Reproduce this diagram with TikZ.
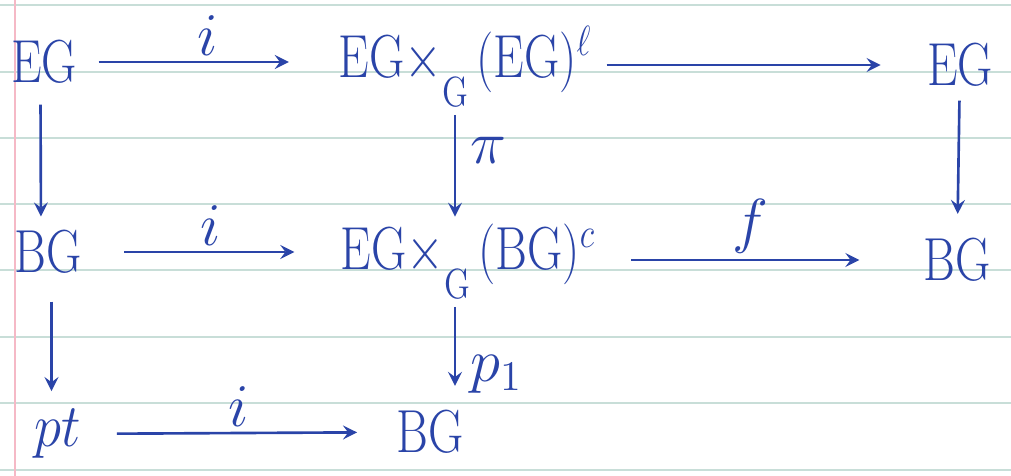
\documentclass[tikz,border=0pt]{standalone}
\usepackage{amsmath}
\definecolor{penblue}{RGB}{42,68,168}
\definecolor{rulecol}{RGB}{200,222,216}
\definecolor{margincol}{RGB}{245,185,198}
\newcommand{\twisted}[2]{\scalebox{0.8}[1]{$\mathrm{EG}{\times}$\raisebox{-8pt}{\fontsize{12}{14}\selectfont G}\,$(\mathrm{#1})^{#2}$}}
\newcommand{\ob}[1]{\scalebox{0.8}[1]{$\mathrm{#1}$}}
\begin{document}
\begin{tikzpicture}[x=0.01cm,y=-0.01cm, font=\fontsize{17}{20}\selectfont,
  obj/.style={text=penblue, inner sep=2pt},
  ink/.style={draw=penblue, ->, >=stealth, line width=0.75pt},
  lab/.style={text=penblue, inner sep=1.5pt, font=\fontsize{17}{20}\selectfont}]
% paper
\fill[white] (0,0) rectangle (1011,476);
\useasboundingbox (0,0) rectangle (1011,476);
\foreach \y in {5,72,138,204,270,337,403,470}
  \draw[rulecol, line width=0.5pt] (0,\y) -- (1011,\y);
\draw[margincol, line width=0.5pt] (15,0) -- (15,476);

% objects
\node[obj] (egA) at (44,62) {\ob{EG}};
\node[obj, anchor=base west] (egprod) at (331,78) {\twisted{EG}{\ell}};
\node[obj] (egB) at (960,65) {\ob{EG}};
\node[obj] (bgA) at (48,252) {\ob{BG}};
\node[obj, anchor=base west] (bgprod) at (333,270) {\twisted{BG}{c}};
\node[obj] (bgB) at (957,260) {\ob{BG}};
\node[obj] (pt) at (58,434) {\scalebox{0.9}[1]{$pt$}};
\node[obj] (bgC) at (430,432) {\ob{BG}};
\path (455,0) coordinate (colX);

% top row
\draw[ink, shorten <=4pt, shorten >=12pt] (egA.east) -- node[lab, above] {$i$} (egA.east -| egprod.west);
\draw[ink, shorten <=2pt, shorten >=11pt] (egB.west -| egprod.east) -- (egB.west);
% middle row
\draw[ink, shorten <=10pt, shorten >=11pt] (bgA.east) -- node[lab, above] {$i$} (bgA.east -| bgprod.west);
\draw[ink, shorten <=8pt, shorten >=16pt] (bgB.west -| bgprod.east) -- node[lab, above, pos=0.47] {$f$} (bgB.west);
% bottom row
\draw[ink, shorten <=8pt, shorten >=9pt] (pt) -- node[lab, above] {$i$} (bgC);
% verticals
\draw[ink, shorten <=4pt, shorten >=2pt] ([xshift=-1pt]egA.south) -- ([xshift=-2pt]bgA.north);
\draw[ink] (egprod.south -| colX) -- node[lab, right, pos=0.35, inner sep=4pt] {$\pi$} (bgprod.north -| colX);
\draw[ink, shorten <=2pt, shorten >=5pt] (egB) -- (bgB);
\draw[ink, shorten <=6pt, shorten >=3pt] ([xshift=1pt]bgA.south) -- ([xshift=1pt]bgA.south |- pt.north);
\draw[ink, shorten >=5pt] (bgprod.south -| colX) -- node[lab, right, pos=0.7, inner sep=4pt] {$p_1$} (bgC.north -| colX);
\end{tikzpicture}
\end{document}
